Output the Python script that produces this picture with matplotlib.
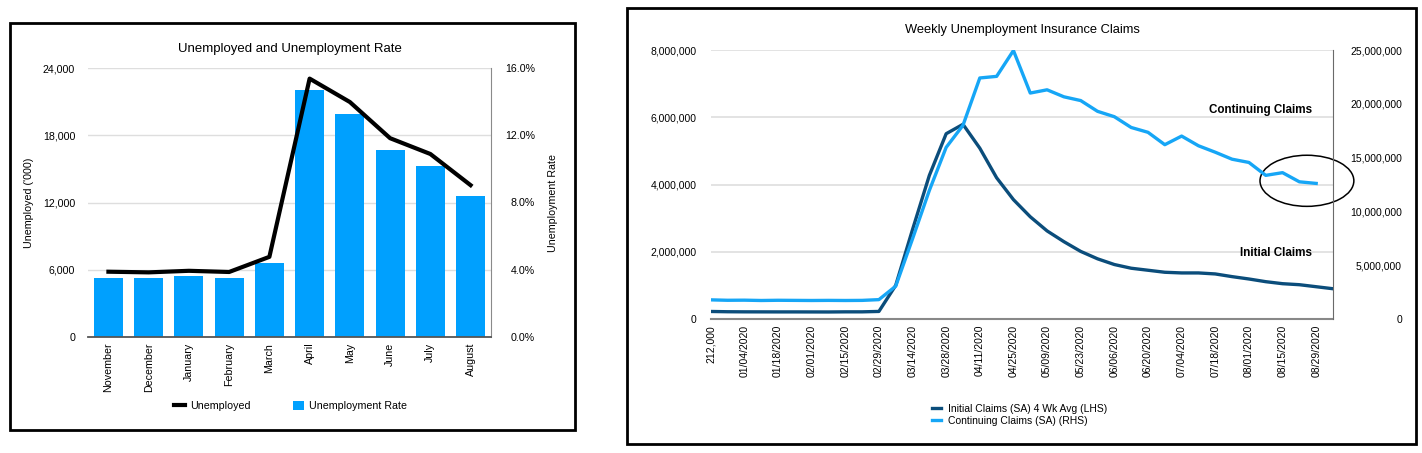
import matplotlib
import matplotlib.pyplot as plt
from matplotlib.patches import Rectangle, Ellipse
from matplotlib.ticker import FuncFormatter
import numpy as np

matplotlib.use('Agg')
plt.rcParams['font.family'] = ['Liberation Sans', 'DejaVu Sans']

# --- left chart data ---
months = ['November', 'December', 'January', 'February', 'March',
          'April', 'May', 'June', 'July', 'August']
unemployed = [5811, 5753, 5892, 5787, 7140, 23078, 20985, 17750, 16338, 13550]
unemp_rate = [3.5, 3.5, 3.6, 3.5, 4.4, 14.7, 13.3, 11.1, 10.2, 8.4]

# --- right chart data ---
week_labels = ['212,000', '01/04/2020', '01/18/2020', '02/01/2020', '02/15/2020',
               '02/29/2020', '03/14/2020', '03/28/2020', '04/11/2020', '04/25/2020',
               '05/09/2020', '05/23/2020', '06/06/2020', '06/20/2020', '07/04/2020',
               '07/18/2020', '08/01/2020', '08/15/2020', '08/29/2020']
initial_claims = [224000, 216000, 213000, 212000, 211000, 211000, 210000, 209000,
                  213000, 213000, 225000, 1000000, 2660000, 4270000, 5510000,
                  5790000, 5080000, 4200000, 3550000, 3040000, 2620000, 2300000,
                  2010000, 1790000, 1620000, 1510000, 1450000, 1390000, 1370000,
                  1370000, 1340000, 1260000, 1190000, 1110000, 1050000, 1020000,
                  960000, 900000]
continuing_claims = [1780000, 1740000, 1750000, 1720000, 1740000, 1730000, 1720000,
                     1730000, 1720000, 1730000, 1800000, 3050000, 7450000, 11950000,
                     15950000, 18000000, 22400000, 22550000, 24950000, 21000000,
                     21300000, 20650000, 20300000, 19300000, 18800000, 17800000,
                     17350000, 16200000, 17000000, 16100000, 15500000, 14850000,
                     14550000, 13350000, 13600000, 12750000, 12600000]

W, H = 1422, 453


def fx(px):
    return px / W


def fy(py):
    return 1 - py / H


BAR_BLUE = '#00a0fe'
DARK_BLUE = '#0b4d7b'
LIGHT_BLUE = '#16a6f6'
GRID = '#dedede'

fig = plt.figure(figsize=(W / 100, H / 100), dpi=100)

# ---------------- left chart ----------------
FS_L = 7.7
axl = fig.add_axes([fx(88.3), fy(336.7), (490.7 - 88.3) / W, (336.7 - 68.3) / H])
axl_r = axl.twinx()
x = np.arange(len(months))
bars = axl_r.bar(x, unemp_rate, width=0.72, color=BAR_BLUE, label='Unemployment Rate')
line, = axl.plot(x, unemployed, color='black', lw=3, label='Unemployed')
axl.set_zorder(axl_r.get_zorder() + 1)
axl.patch.set_visible(False)

axl.set_xlim(-0.5, len(months) - 0.5)
axl.set_ylim(0, 24000)
axl.set_yticks(range(0, 24001, 6000))
axl.yaxis.set_major_formatter(FuncFormatter(lambda v, p: f'{v:,.0f}'))
axl_r.set_ylim(0, 16)
axl_r.set_yticks([0, 4, 8, 12, 16])
axl_r.yaxis.set_major_formatter(FuncFormatter(lambda v, p: f'{v:.1f}%'))
axl.set_xticks(x, months, rotation=90)
axl_r.grid(axis='y', color=GRID, lw=1)
axl_r.set_axisbelow(True)

axl.tick_params(axis='both', length=0, labelsize=FS_L)
axl.tick_params(axis='y', pad=9.4)
axl.tick_params(axis='x', pad=4.3)
axl_r.tick_params(axis='y', length=0, labelsize=FS_L, pad=31.7)
plt.setp(axl_r.get_yticklabels(), ha='right')
for a in (axl, axl_r):
    for s in ('top', 'left'):
        a.spines[s].set_visible(False)
axl.spines['right'].set_visible(False)
axl_r.spines['bottom'].set_visible(False)
axl_r.spines['right'].set_color('#8a8a8a')
axl.spines['bottom'].set_color('#555555')
axl.spines['bottom'].set_linewidth(1.3)

fig.text(fx(290), fy(49), 'Unemployed and Unemployment Rate', ha='center', va='center', fontsize=9.5)
fig.text(fx(29.5), fy(203), "Unemployed ('000)", rotation=90, ha='center', va='center', fontsize=FS_L)
fig.text(fx(553), fy(203), 'Unemployment Rate', rotation=90, ha='center', va='center', fontsize=FS_L)
fig.legend(handles=[line, bars], labels=['Unemployed', 'Unemployment Rate'],
           loc='center', bbox_to_anchor=(fx(290.5), fy(406)), ncol=2, frameon=False,
           fontsize=FS_L, handlelength=1.0, handleheight=1.0, handletextpad=0.5,
           columnspacing=4.0, borderpad=0, borderaxespad=0)

# ---------------- right chart ----------------
FS_R = 7.5
ax = fig.add_axes([fx(710.7), fy(319), (1333 - 710.7) / W, (319 - 50) / H])
ax2 = ax.twinx()
xi = np.arange(len(initial_claims))
xc = np.arange(len(continuing_claims))
l1, = ax.plot(xi, initial_claims, color=DARK_BLUE, lw=2.4, label='Initial Claims (SA) 4 Wk Avg (LHS)')
l2, = ax2.plot(xc, continuing_claims, color=LIGHT_BLUE, lw=2.4, label='Continuing Claims (SA) (RHS)')

ax.set_xlim(0, len(initial_claims) - 1)
ax.set_ylim(0, 8000000)
ax.set_yticks(range(0, 8000001, 2000000))
ax.yaxis.set_major_formatter(FuncFormatter(lambda v, p: f'{v:,.0f}'))
ax2.set_ylim(0, 25000000)
ax2.set_yticks(range(0, 25000001, 5000000))
ax2.yaxis.set_major_formatter(FuncFormatter(lambda v, p: f'{v:,.0f}'))
ax.set_xticks(np.arange(0, len(initial_claims), 2)[:len(week_labels)], week_labels, rotation=90)
ax.grid(axis='y', color=GRID, lw=1.2)
ax.set_axisbelow(True)

ax.tick_params(axis='both', length=0, labelsize=FS_R)
ax.tick_params(axis='y', pad=10)
ax.tick_params(axis='x', pad=4.3)
ax2.tick_params(axis='y', length=0, labelsize=FS_R, pad=49.7)
plt.setp(ax2.get_yticklabels(), ha='right')
for a in (ax, ax2):
    for s in ('top', 'left'):
        a.spines[s].set_visible(False)
ax.spines['right'].set_visible(False)
ax2.spines['bottom'].set_visible(False)
ax2.spines['right'].set_color('#6a6a6a')
ax.spines['bottom'].set_color('#888888')
ax.spines['bottom'].set_linewidth(1.5)

ax.add_patch(Ellipse((35.45, 4110000), 5.58, 1520000, fill=False, ec='black', lw=1.1, clip_on=False))
fig.text(fx(1312), fy(110), 'Continuing Claims', ha='right', va='center', fontsize=8.4, fontweight='bold')
fig.text(fx(1312), fy(253), 'Initial Claims', ha='right', va='center', fontsize=8.4, fontweight='bold')
fig.text(fx(1022), fy(30.5), 'Weekly Unemployment Insurance Claims', ha='center', va='center', fontsize=9.3)
fig.legend(handles=[l1, l2], loc='center left', bbox_to_anchor=(fx(932), fy(414.6)),
           frameon=False, fontsize=FS_R, handlelength=0.9, handletextpad=0.6,
           labelspacing=0.2, borderpad=0, borderaxespad=0)

# panel frames
fig.patches.append(Rectangle((fx(10), fy(430)), (575 - 10) / W, (430 - 23) / H,
                             transform=fig.transFigure, fill=False, ec='black', lw=2))
fig.patches.append(Rectangle((fx(627), fy(444)), (1416 - 627) / W, (444 - 8) / H,
                             transform=fig.transFigure, fill=False, ec='black', lw=2))

fig.savefig('out.png', dpi=100)
